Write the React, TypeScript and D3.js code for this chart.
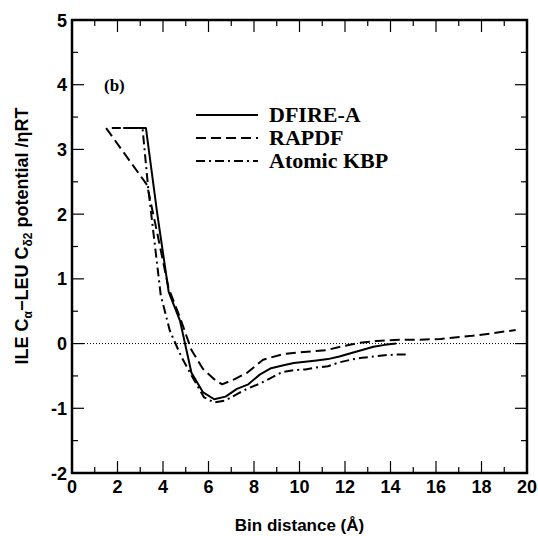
import React from "react";
import * as d3 from "d3";

const dfireX = [2.25, 3.25, 3.75, 4.25, 4.75, 5.25, 5.75, 6.25, 6.75, 7.25, 7.75, 8.25, 8.75, 9.25, 9.75, 10.25, 10.75, 11.25, 11.75, 12.25, 12.75, 13.25, 13.75, 14.25];
const dfireY = [3.33, 3.33, 2.0, 0.8, 0.35, -0.45, -0.75, -0.86, -0.82, -0.7, -0.63, -0.48, -0.38, -0.34, -0.3, -0.28, -0.26, -0.24, -0.2, -0.15, -0.1, -0.05, -0.02, 0.0];

const rapdfX = [1.5, 3.3, 3.75, 4.25, 4.75, 5.25, 5.75, 6.25, 6.6, 7.15, 7.7, 8.4, 9.3, 10.2, 11.2, 11.9, 12.6, 13.4, 14.4, 15.25, 16.2, 17.6, 18.5, 19.5];
const rapdfY = [3.33, 2.45, 1.7, 0.85, 0.4, -0.1, -0.39, -0.55, -0.63, -0.55, -0.45, -0.25, -0.16, -0.13, -0.1, -0.04, 0.01, 0.04, 0.06, 0.06, 0.07, 0.12, 0.16, 0.21];

const kbpX = [1.75, 3.1, 3.35, 3.65, 3.9, 4.3, 4.8, 5.3, 5.8, 6.25, 6.75, 7.25, 7.75, 8.25, 8.75, 9.25, 9.75, 10.25, 10.75, 11.25, 11.75, 12.25, 12.75, 13.25, 13.75, 14.25, 14.75];
const kbpY = [3.33, 3.33, 2.4, 1.5, 0.75, 0.2, -0.2, -0.52, -0.83, -0.91, -0.88, -0.78, -0.69, -0.62, -0.53, -0.44, -0.41, -0.4, -0.37, -0.35, -0.29, -0.25, -0.22, -0.2, -0.18, -0.17, -0.17];

const seriesNames = ["DFIRE-A", "RAPDF", "Atomic KBP"];
const xMajorTicks = [0, 2, 4, 6, 8, 10, 12, 14, 16, 18, 20];
const yMajorTicks = [-2, -1, 0, 1, 2, 3, 4, 5];

const W = 538, H = 536;
const L = 72, R = 527, T = 20, B = 473;

export default function App() {
  const x = d3.scaleLinear().domain([0, 20]).range([L, R]);
  const y = d3.scaleLinear().domain([-2, 5]).range([B, T]);
  const line = d3.line<[number, number]>().x(d => x(d[0])).y(d => y(d[1]));
  const zip = (a: number[], b: number[]) => a.map((v, i) => [v, b[i]] as [number, number]);
  const series = [
    { name: seriesNames[0], pts: zip(dfireX, dfireY), dash: "none" },
    { name: seriesNames[1], pts: zip(rapdfX, rapdfY), dash: "10,5" },
    { name: seriesNames[2], pts: zip(kbpX, kbpY), dash: "9,4,2,4" },
  ];
  const xMinor = d3.range(0, 21, 1);
  const yMinor = d3.range(-2, 5.01, 0.5);
  const font = "Arial, 'Liberation Sans', Helvetica, sans-serif";
  const serif = "'Liberation Serif', 'Times New Roman', serif";
  return (
    <svg width={W} height={H} style={{ position: "absolute", left: 0, top: 0, background: "#fff" }}>
      <rect x={0} y={0} width={W} height={H} fill="#fff" />
      <defs>
        <clipPath id="clip"><rect x={L} y={T} width={R - L} height={B - T} /></clipPath>
      </defs>
      {/* zero line */}
      <line x1={L} x2={R} y1={y(0)} y2={y(0)} stroke="#000" strokeWidth={1} strokeDasharray="1,2" />
      {/* ticks */}
      {xMinor.map(v => {
        const len = v % 2 === 0 ? 12 : 6;
        return (
          <g key={"xt" + v}>
            <line x1={x(v)} x2={x(v)} y1={B} y2={B - len} stroke="#000" strokeWidth={1.2} />
            <line x1={x(v)} x2={x(v)} y1={T} y2={T + len} stroke="#000" strokeWidth={1.2} />
          </g>
        );
      })}
      {yMinor.map(v => {
        const len = Math.abs(v - Math.round(v)) < 1e-6 ? 12 : 6;
        return (
          <g key={"yt" + v}>
            <line x1={L} x2={L + len} y1={y(v)} y2={y(v)} stroke="#000" strokeWidth={1.2} />
            <line x1={R} x2={R - len} y1={y(v)} y2={y(v)} stroke="#000" strokeWidth={1.2} />
          </g>
        );
      })}
      {/* curves */}
      <g clipPath="url(#clip)">
        {series.map(s => (
          <path key={s.name} d={line(s.pts) || ""} fill="none" stroke="#000" strokeWidth={2} strokeDasharray={s.dash} strokeLinejoin="round" />
        ))}
      </g>
      <rect x={L} y={T} width={R - L} height={B - T} fill="none" stroke="#000" strokeWidth={2.5} />
      {/* tick labels */}
      {xMajorTicks.map(v => (
        <text key={"xl" + v} x={x(v)} y={B + 20} textAnchor="middle" fontFamily={font} fontWeight="bold" fontSize={18}>{v}</text>
      ))}
      {yMajorTicks.map(v => (
        <text key={"yl" + v} x={L - 5} y={y(v) + 6.5} textAnchor="end" fontFamily={font} fontWeight="bold" fontSize={18}>{v}</text>
      ))}
      {/* axis titles */}
      <text x={(L + R) / 2} y={531} textAnchor="middle" fontFamily={font} fontWeight="bold" fontSize={17}>Bin distance (Å)</text>
      <text transform={`translate(28,236) rotate(-90)`} textAnchor="middle" fontFamily={font} fontWeight="bold" fontSize={18}>
        ILE C<tspan fontSize={12} dy={4}>α</tspan><tspan dy={-4}>−LEU C</tspan><tspan fontSize={12} dy={4}>δ2</tspan><tspan dy={-4}> potential /ηRT</tspan>
      </text>
      {/* panel label */}
      <text x={104} y={91} fontFamily={serif} fontWeight="bold" fontSize={17}>(b)</text>
      {/* legend */}
      {series.map((s, i) => (
        <g key={"lg" + s.name}>
          <line x1={196} x2={258} y1={115 + i * 23} y2={115 + i * 23} stroke="#000" strokeWidth={2} strokeDasharray={s.dash} />
          <text x={269} y={122 + i * 23} fontFamily={serif} fontWeight="bold" fontSize={22}>{s.name}</text>
        </g>
      ))}
    </svg>
  );
}
